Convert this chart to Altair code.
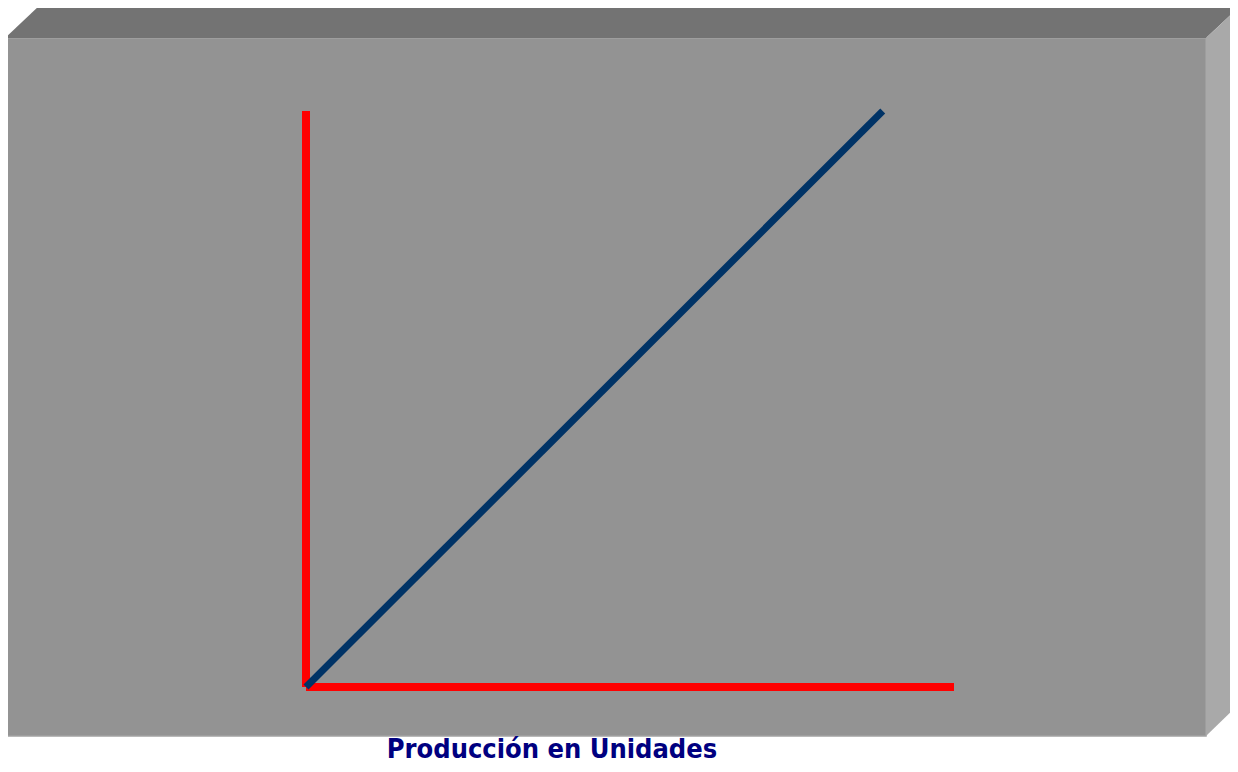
import altair as alt
import pandas as pd

# ---- chart values ----
units = [0, 89]          # production in units (x)
cost = [0, 100]          # cost (y)
axis_max = [100]         # extent of both axes
title_text = "Producción en Unidades"

# ---- layout (page pixels of the reference, canvas starts at 8px margin) ----
OFF = 8
def px(v):
    return v - OFF

W, H = 1222, 756

front = pd.DataFrame({"x": [px(5)], "x2": [px(1206)], "y": [px(38)], "y2": [px(736)]})
top = pd.DataFrame({
    "x": [px(5), px(40), px(1206), px(1238)],
    "y": [px(38), px(5), px(5), px(5)],
    "y2": [px(38), px(38), px(38), px(8)],
})
right = pd.DataFrame({
    "x": [px(1206), px(1238)],
    "y": [px(38), px(8)],
    "y2": [px(736), px(705)],
})

front_layer = alt.Chart(front).mark_rect(color="#939393", stroke="#a3a3a3", strokeWidth=1.5).encode(
    x=alt.X("x:Q", scale=None), x2="x2:Q",
    y=alt.Y("y:Q", scale=None), y2="y2:Q",
)
top_layer = alt.Chart(top).mark_area(color="#737373", opacity=1).encode(
    x=alt.X("x:Q", scale=None),
    y=alt.Y("y:Q", scale=None), y2="y2:Q",
)
right_layer = alt.Chart(right).mark_area(color="#a9a9a9", opacity=1).encode(
    x=alt.X("x:Q", scale=None),
    y=alt.Y("y:Q", scale=None), y2="y2:Q",
)

xs = alt.Scale(domain=[0, axis_max[0]], range=[px(306), px(954)], nice=False, zero=False)
ys = alt.Scale(domain=[0, axis_max[0]], range=[px(687), px(111)], nice=False, zero=False)

axes_df = pd.DataFrame({
    "x": [0, 0], "x2": [0, axis_max[0]],
    "y": [0, 0], "y2": [axis_max[0], 0],
})
axes_layer = alt.Chart(axes_df).mark_rule(color="#ff0000", strokeWidth=8, strokeCap="butt").encode(
    x=alt.X("x:Q", scale=xs, axis=None), x2="x2:Q",
    y=alt.Y("y:Q", scale=ys, axis=None), y2="y2:Q",
)

line_df = pd.DataFrame({"units": units, "cost": cost})
line_layer = alt.Chart(line_df).mark_line(color="#003366", strokeWidth=7, strokeCap="butt").encode(
    x=alt.X("units:Q", scale=xs, axis=None),
    y=alt.Y("cost:Q", scale=ys, axis=None),
)

title_layer = alt.Chart(pd.DataFrame({"t": [title_text]})).mark_text(
    font="Comic Sans MS, DejaVu Sans Condensed", fontSize=27, fontWeight="bold", color="#000080",
    align="center", baseline="alphabetic",
).encode(
    text="t:N", x=alt.value(px(552)), y=alt.value(px(758)),
)

chart = alt.layer(
    front_layer, top_layer, right_layer, axes_layer, line_layer, title_layer
).resolve_scale(x="independent", y="independent").properties(
    width=W, height=H, padding=0, autosize=alt.AutoSizeParams(type="none"),
    background="white",
).configure_view(stroke=None)

chart.save("out.html", embed_options={"renderer": "svg", "actions": False})
